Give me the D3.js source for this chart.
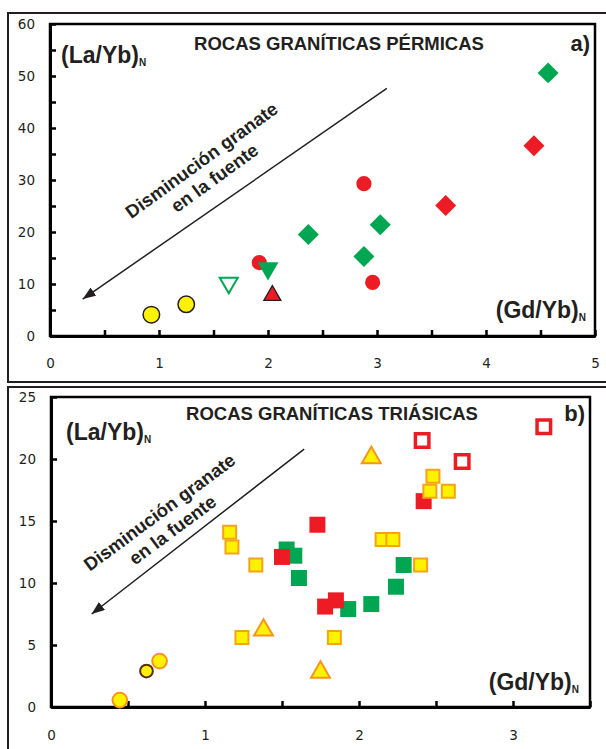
<!DOCTYPE html>
<html lang="es">
<head>
<meta charset="UTF-8">
<title>(La/Yb)N vs (Gd/Yb)N</title>
<script src="https://d3js.org/d3.v7.min.js"></script>
<style>
    body { margin: 0; background: #fff; }
    svg text { font-family: "Liberation Sans", Arial, sans-serif; fill: #231f20; }
    .tick text { font-family: "DejaVu Sans", Verdana, sans-serif; font-size: 13.5px; fill: #231f20; }
    .tick line { stroke: #000; stroke-width: 2.5px; }
    .domain { stroke: #000; stroke-width: 3px; }
</style>
</head>
<body>
<svg id="chart" width="606" height="749"></svg>
<script>
    // ---- datos panel a) rocas pérmicas : [Gd/Yb, La/Yb]
    var permCircRed = [[1.92, 14.1], [2.88, 29.3], [2.96, 10.3]];
    var permDiamRed = [[3.63, 25.1], [4.44, 36.6]];
    var permDiamGreen = [[2.37, 19.5], [2.88, 15.3], [3.03, 21.4], [4.57, 50.6]];
    var permTriDownGreen = [[2.0, 13.0]];
    var permTriDownOpen = [[1.64, 10.2]];
    var permTriUpRed = [[2.04, 7.8]];
    var permCircYellow = [[0.93, 4.1], [1.25, 6.1]];
    var permArrow = [[3.09, 47.6], [0.30, 7.1]];
    var permXTicks = [0, 0.5, 1, 1.5, 2, 2.5, 3, 3.5, 4, 4.5, 5];
    var permYTicks = [0, 5, 10, 15, 20, 25, 30, 35, 40, 45, 50, 55, 60];

    // ---- datos panel b) rocas triásicas
    var triSqRedOpen = [[2.41, 21.5], [2.67, 19.8], [3.20, 22.6]];
    var triSqGreen = [[1.53, 12.7], [1.58, 12.2], [1.61, 10.4], [1.93, 7.9], [2.08, 8.3], [2.24, 9.7], [2.29, 11.45]];
    var triSqRed = [[1.50, 12.1], [1.73, 14.7], [1.78, 8.1], [1.85, 8.6], [2.42, 16.6]];
    var triSqYellow = [[1.16, 14.1], [1.175, 12.9], [1.24, 5.6], [1.33, 11.45], [1.84, 5.6], [2.15, 13.5],
                       [2.22, 13.5], [2.40, 11.45], [2.48, 18.6], [2.46, 17.4], [2.58, 17.4]];
    var triTriYellow = [[1.38, 6.2], [1.75, 2.8], [2.08, 20.1]];
    var triCircYellow = [[0.447, 0.56], [0.705, 3.7]];
    var triCircDark = [[0.62, 2.9]];
    var triArrow = [[1.644, 20.8], [0.264, 7.5]];
    var triXTicks = [0, 0.5, 1, 1.5, 2, 2.5, 3, 3.5];
    var triYTicks = [0, 5, 10, 15, 20, 25];

    var RED = "#ed1c24", GREEN = "#00a651", YELLOW = "#fff200", ORANGE = "#f7a21b";

    var svg = d3.select("#chart");

    svg.append("defs").append("marker")
        .attr("id", "flecha")
        .attr("viewBox", "0 0 13 10")
        .attr("refX", 13).attr("refY", 5)
        .attr("markerWidth", 13).attr("markerHeight", 10)
        .attr("markerUnits", "userSpaceOnUse")
        .attr("orient", "auto")
        .append("path").attr("d", "M0,0L13,5L0,10z").attr("fill", "#231f20");

    function panel(cfg) {
        var g = svg.append("g");

        // marco exterior
        g.append("rect")
            .attr("x", cfg.frame[0]).attr("y", cfg.frame[1])
            .attr("width", cfg.frame[2]).attr("height", cfg.frame[3])
            .attr("fill", "none").attr("stroke", "#231f20").attr("stroke-width", 2);

        var x = d3.scaleLinear().domain(cfg.xDomain).range([cfg.left, cfg.right]);
        var y = d3.scaleLinear().domain(cfg.yDomain).range([cfg.bottom, cfg.top]);

        // marco del área de trazado
        g.append("rect")
            .attr("x", cfg.left).attr("y", cfg.top)
            .attr("width", cfg.right - cfg.left).attr("height", cfg.bottom - cfg.top)
            .attr("fill", "none").attr("stroke", "#000").attr("stroke-width", 2.5);

        g.append("g")
            .attr("transform", "translate(0," + cfg.bottom + ")")
            .call(d3.axisBottom(x).tickValues(cfg.xTicks).tickSizeInner(-6).tickSizeOuter(0)
                .tickPadding(cfg.xPad)
                .tickFormat(function(d) { return d % 1 === 0 ? d : ""; }));

        g.append("g")
            .attr("transform", "translate(" + cfg.left + ",0)")
            .call(d3.axisLeft(y).tickValues(cfg.yTicks).tickSizeInner(-6).tickSizeOuter(0)
                .tickPadding(15)
                .tickFormat(function(d) { return d % cfg.yLabelStep === 0 ? d : ""; }))
            .selectAll(".tick text").attr("dy", "0.36em");

        // flecha
        g.append("line")
            .attr("x1", x(cfg.arrow[0][0])).attr("y1", y(cfg.arrow[0][1]))
            .attr("x2", x(cfg.arrow[1][0])).attr("y2", y(cfg.arrow[1][1]))
            .attr("stroke", "#231f20").attr("stroke-width", 1.5)
            .attr("marker-end", "url(#flecha)");

        var note = g.append("g")
            .attr("transform", "translate(" + cfg.note[0] + "," + cfg.note[1] + ") rotate(" + cfg.note[2] + ")")
            .attr("font-weight", "bold").attr("font-size", "18.5px")
            .attr("text-anchor", "middle");
        note.append("text").attr("y", -11).attr("dominant-baseline", "central").text("Disminución granate");
        note.append("text").attr("y", 11).attr("dominant-baseline", "central").text("en la fuente");

        // series
        cfg.series.forEach(function(s) {
            g.append("g").selectAll("path")
                .data(s.data)
                .enter().append("path")
                .attr("transform", function(d) {
                    return "translate(" + x(d[0]) + "," + y(d[1]) + ") rotate(" + (s.rot || 0) + ")";
                })
                .attr("d", d3.symbol().type(s.type).size(s.size))
                .attr("fill", s.fill)
                .attr("stroke", s.stroke || "none")
                .attr("stroke-width", s.sw || 0);
        });

        // textos
        g.append("text")
            .attr("x", cfg.titlePos[0]).attr("y", cfg.titlePos[1])
            .attr("text-anchor", "middle").attr("dominant-baseline", "central")
            .attr("font-weight", "bold").attr("font-size", "18.5px")
            .text(cfg.title);

        g.append("text")
            .attr("x", cfg.right - 5).attr("y", cfg.titlePos[1])
            .attr("text-anchor", "end").attr("dominant-baseline", "central")
            .attr("font-weight", "bold").attr("font-size", "22px")
            .text(cfg.letter);

        var yl = g.append("text")
            .attr("x", cfg.yLabel[0]).attr("y", cfg.yLabel[1])
            .attr("font-weight", "bold").attr("font-size", "23px");
        yl.append("tspan").text("(La/Yb)");
        yl.append("tspan").attr("font-size", "10px").attr("dy", 3).text("N");

        var xl = g.append("text")
            .attr("x", cfg.xLabel[0]).attr("y", cfg.xLabel[1])
            .attr("text-anchor", "end")
            .attr("font-weight", "bold").attr("font-size", "23px");
        xl.append("tspan").text("(Gd/Yb)");
        xl.append("tspan").attr("font-size", "10px").attr("dy", 3).text("N");
    }

    panel({
        frame: [8, 13, 610, 369],
        left: 50, right: 595, top: 24, bottom: 336,
        xDomain: [0, 5], yDomain: [0, 60],
        xTicks: permXTicks, yTicks: permYTicks, yLabelStep: 10, xPad: 22,
        arrow: permArrow,
        note: [208, 169, -36],
        title: "ROCAS GRANÍTICAS PÉRMICAS", titlePos: [339, 43], letter: "a)",
        yLabel: [61, 63], xLabel: [586, 318],
        series: [
            { data: permCircRed, type: d3.symbolCircle, size: 180, fill: RED },
            { data: permDiamRed, type: d3.symbolSquare, size: 220, fill: RED, rot: 45 },
            { data: permDiamGreen, type: d3.symbolSquare, size: 220, fill: GREEN, rot: 45 },
            { data: permTriDownGreen, type: d3.symbolTriangle, size: 190, fill: GREEN, rot: 180 },
            { data: permTriDownOpen, type: d3.symbolTriangle, size: 140, fill: "#fff", stroke: GREEN, sw: 2, rot: 180 },
            { data: permTriUpRed, type: d3.symbolTriangle, size: 125, fill: RED, stroke: "#231f20", sw: 1.3 },
            { data: permCircYellow, type: d3.symbolCircle, size: 214, fill: YELLOW, stroke: "#231f20", sw: 1.5 }
        ]
    });

    panel({
        frame: [8, 387, 610, 370],
        left: 51, right: 590, top: 397, bottom: 707,
        xDomain: [0, 3.5], yDomain: [0, 25],
        xTicks: triXTicks, yTicks: triYTicks, yLabelStep: 5, xPad: 23,
        arrow: triArrow,
        note: [166, 521, -36.5],
        title: "ROCAS GRANÍTICAS TRIÁSICAS", titlePos: [332, 413], letter: "b)",
        yLabel: [66, 440], xLabel: [579, 690],
        series: [
            { data: triSqRedOpen, type: d3.symbolSquare, size: 182, fill: "#fff", stroke: RED, sw: 3.5 },
            { data: triSqGreen, type: d3.symbolSquare, size: 256, fill: GREEN },
            { data: triSqRed, type: d3.symbolSquare, size: 256, fill: RED },
            { data: triSqYellow, type: d3.symbolSquare, size: 169, fill: YELLOW, stroke: ORANGE, sw: 2 },
            { data: triTriYellow, type: d3.symbolTriangle, size: 156, fill: YELLOW, stroke: "#f7941d", sw: 2 },
            { data: triCircYellow, type: d3.symbolCircle, size: 170, fill: YELLOW, stroke: "#f7941d", sw: 2 },
            { data: triCircDark, type: d3.symbolCircle, size: 128, fill: YELLOW, stroke: "#5a2d0c", sw: 2 }
        ]
    });
</script>
</body>
</html>
